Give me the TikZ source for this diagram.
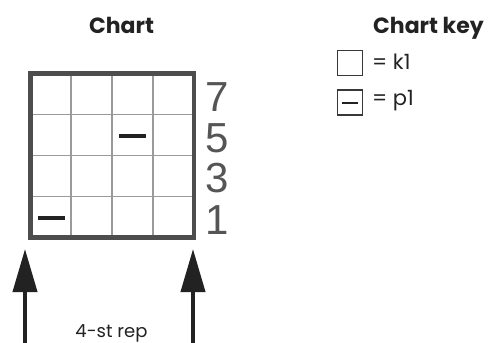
\documentclass[tikz,border=0pt]{standalone}
\usepackage{fontspec}
\setmainfont{Poppins}
\newfontfamily\numfont{Liberation Sans}
\usetikzlibrary{arrows.meta}
\definecolor{border}{HTML}{4D4D4D}
\definecolor{inner}{HTML}{9A9A9A}
\definecolor{ink}{HTML}{222222}
\definecolor{numgray}{HTML}{555555}
\tikzset{
  gridline/.style={draw=inner, line width=1.8pt},
  gridborder/.style={draw=border, line width=4.5pt},
  purl/.style={draw=ink, line width=4pt},
  keybox/.style={draw=ink!90, line width=1.8pt, minimum width=25pt, minimum height=25pt, inner sep=0pt},
  title/.style={font=\fontsize{22}{26}\selectfont\bfseries, text=ink, anchor=base, inner sep=0pt},
  keytext/.style={font=\fontsize{21}{24}\selectfont, text=ink, anchor=base west, inner sep=0pt},
  rownum/.style={font=\numfont\fontsize{42}{44}\selectfont, text=numgray, inner sep=0pt},
  reparrow/.style={draw=ink, line width=4pt, -{Triangle[length=43pt,width=24pt]}},
}
\begin{document}
\begin{tikzpicture}[x=1pt,y=-1pt]
\useasboundingbox (0,0) rectangle (491,343);
% titles
\node[title] (charttitle) at (121.5,33) {Chart};
\node[title, anchor=base west] (keytitle) at (373,33) {Chart key};
% grid
\foreach \i in {1,2,3} {
  \draw[gridline] ({30.5+\i*40.875},73.5) -- ({30.5+\i*40.875},237.5);
  \draw[gridline] (30.5,{73.5+\i*41}) -- (194,{73.5+\i*41});
}
\draw[gridborder] (30.5,73.5) rectangle (194,237.5);
% purl marks
\draw[purl] (119,135.7) -- (146,135.7);
\draw[purl] (37.5,218.3) -- (64.5,218.3);
% row numbers
\node[rownum] (r7) at (217.5,97) {7};
\node[rownum] (r5) at (217.5,138) {5};
\node[rownum] (r3) at (217.5,178.5) {3};
\node[rownum] (r1) at (217.5,220) {1};
% key
\node[keybox] (k1box) at (350,63) {};
\node[keybox] (p1box) at (350,102.5) {};
\draw[draw=ink, line width=1.8pt] ([xshift=5pt]p1box.west |- 0,103) coordinate (pd1) -- ([xshift=-5pt]p1box.east |- 0,103) coordinate (pd2);
\node[keytext] (k1text) at (372,69) {= k1};
\node[keytext] (p1text) at (372,105) {= p1};
% arrows
\coordinate (la0) at (25,346);
\coordinate (la1) at (25,249);
\coordinate (ra0) at (193,346);
\coordinate (ra1) at (193,249);
\draw[reparrow] (la0) -- (la1);
\draw[reparrow] (ra0) -- (ra1);
\node[font=\fontsize{18}{20}\selectfont, text=ink, anchor=base, inner sep=0pt] (rep) at (111.5,337) {4-st rep};
\end{tikzpicture}
\end{document}
